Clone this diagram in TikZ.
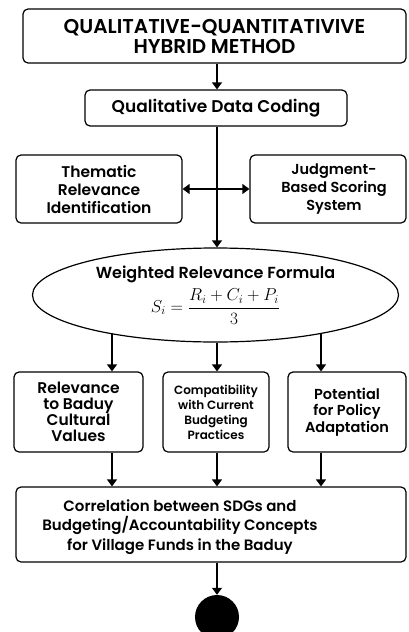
\documentclass[tikz,border=0pt]{standalone}
\usepackage{fontspec}
\setmainfont{Poppins}[BoldFont={Poppins SemiBold}]
\usetikzlibrary{calc,arrows.meta,shapes.geometric}

\begin{document}
\begin{tikzpicture}[x=1pt,y=-1pt,
   box/.style={draw=black,line width=1.2pt,rounded corners=5pt,align=center,inner sep=0pt,
               font=\bfseries\fontsize{15.5}{18}\selectfont},
   arr/.style={draw=black,line width=1.2pt,-{Triangle[length=7pt,width=10pt]}},
   dblarr/.style={draw=black,line width=1.2pt,{Triangle[length=7pt,width=10pt]}-{Triangle[length=7pt,width=10pt]}}]

   \useasboundingbox (0,0) rectangle (408,632);

   \coordinate (colA) at (112,0);
   \coordinate (colB) at (217,0);
   \coordinate (colC) at (321,0);

   \node[box,minimum width=383pt,minimum height=54pt,font=\bfseries\fontsize{20}{20}\selectfont]
      (top) at (214.5,36) {QUALITATIVE-QUANTITATIVIVE\\HYBRID METHOD};
   \node[box,minimum width=262pt,minimum height=36pt,font=\bfseries\fontsize{17}{20}\selectfont]
      (coding) at (216,108) {Qualitative Data Coding};

   \node[box,minimum width=166pt,minimum height=68pt] (them) at (99,189) {Thematic\\Relevance\\Identification};
   \node[box,minimum width=156pt,minimum height=68pt,font=\bfseries\fontsize{14.5}{18}\selectfont]
      (judg) at (328,189) {\hspace{12pt}Judgment-\\\hspace{12pt}Based Scoring\\\hspace{12pt}System};

   \node[draw=black,line width=1.2pt,ellipse,minimum width=366pt,minimum height=94pt,inner sep=0pt,
         align=center,font=\bfseries\fontsize{16}{19}\selectfont]
      (formula) at (215.5,295) {Weighted Relevance Formula\\[5pt]
      {\normalfont\fontsize{17.5}{18}\selectfont $\displaystyle S_i=\frac{R_i+C_i+P_i}{3}$}};

   \node[box,minimum width=129pt,minimum height=80pt,font=\bfseries\fontsize{15.5}{16}\selectfont]
      (rel) at (78.5,412) {Relevance\\to Baduy\\Cultural\\Values};
   \node[box,minimum width=106pt,minimum height=80pt,font=\bfseries\fontsize{12}{15}\selectfont]
      (comp) at (216,412) {Compatibility\\with Current\\Budgeting\\Practices};
   \node[box,minimum width=118pt,minimum height=80pt,font=\bfseries\fontsize{14.5}{16.5}\selectfont]
      (pot) at (347,412) {Potential\\for Policy\\Adaptation};

   \node[box,minimum width=390pt,minimum height=75pt] (corr) at (211,524.5) {};
   \node[align=center,inner sep=0pt,font=\bfseries\fontsize{15}{19.5}\selectfont]
      (corrtxt) at (180,527) {Correlation between SDGs and\\Budgeting/Accountability Concepts\\for Village Funds in the Baduy};

   \node[circle,fill=black,minimum size=44pt,inner sep=0pt] (end) at (217,617) {};

   \draw[arr] (top.south -| colB) -- (colB |- coding.north);
   \draw[arr] (coding.south -| colB) -- (colB |- formula.north);
   \draw[dblarr] (them.east) -- (judg.west);

   \draw[arr] (formula.-159 -| colA) -- (colA |- rel.north);
   \draw[arr] (formula.south -| colB) -- (colB |- comp.north);
   \draw[arr] (formula.-21 -| colC) -- (colC |- pot.north);

   \draw[arr] (rel.south -| colA) -- (colA |- corr.north);
   \draw[arr] (comp.south -| colB) -- (colB |- corr.north);
   \draw[arr] (pot.south -| colC) -- (colC |- corr.north);

   \draw[arr] (corr.south -| colB) -- (colB |- end.north);

\end{tikzpicture}
\end{document}
